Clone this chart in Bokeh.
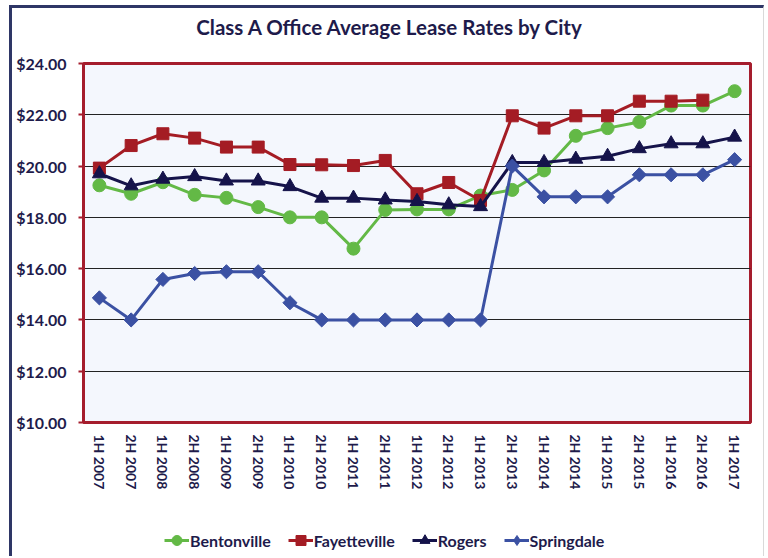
import numpy as np
from bokeh.plotting import figure
from bokeh.layouts import column
from bokeh.models import (FactorRange, Range1d, FixedTicker, NumeralTickFormatter,
                          Legend, LegendItem, Label)
from bokeh.embed import file_html
from bokeh.resources import INLINE

title_text = "Class A Office Average Lease Rates by City"
periods = ["1H 2007", "2H 2007", "1H 2008", "2H 2008", "1H 2009", "2H 2009",
           "1H 2010", "2H 2010", "1H 2011", "2H 2011", "1H 2012", "2H 2012",
           "1H 2013", "2H 2013", "1H 2014", "2H 2014", "1H 2015", "2H 2015",
           "1H 2016", "2H 2016", "1H 2017"]

bentonville = [19.25, 18.92, 19.37, 18.88, 18.76, 18.40, 18.00, 18.00, 16.78, 18.29,
               18.31, 18.31, 18.85, 19.07, 19.83, 21.18, 21.48, 21.72, 22.36, 22.36, 22.92]
fayetteville = [19.92, 20.80, 21.26, 21.09, 20.74, 20.74, 20.06, 20.05, 20.02, 20.22,
                18.92, 19.36, 18.66, 21.96, 21.48, 21.96, 21.96, 22.53, 22.53, 22.57]
rogers = [19.70, 19.23, 19.49, 19.59, 19.42, 19.42, 19.20, 18.75, 18.75, 18.68,
          18.62, 18.49, 18.42, 20.14, 20.14, 20.27, 20.38, 20.68, 20.87, 20.87, 21.13]
springdale = [14.86, 14.00, 15.58, 15.81, 15.88, 15.88, 14.67, 14.00, 14.00, 14.00,
              14.00, 14.00, 14.00, 20.00, 18.80, 18.80, 18.80, 19.66, 19.66, 19.66, 20.25]

y_ticks = [10, 12, 14, 16, 18, 20, 22, 24]

NAVY_TEXT = "#1E1B4B"
FRAME_RED = "#A51D2D"
NAVY_BORDER = "#2E3666"
FONT = "Lato"
W = 751
ML, MR = 71, 17


def strip(height, extra_styles):
    f = figure(width=W, height=height, x_range=Range1d(0, 1), y_range=Range1d(0, 1),
               output_backend="svg", toolbar_location=None,
               min_border_left=ML, min_border_right=MR, min_border_top=0,
               min_border_bottom=0)
    st = {"box-sizing": "content-box", "margin-left": "9px",
          "border-left": f"3px solid {NAVY_BORDER}", "border-right": "1px solid #D9D9D9"}
    st.update(extra_styles)
    f.styles = st
    f.axis.visible = False
    f.grid.visible = False
    f.outline_line_color = None
    f.background_fill_color = "white"
    f.border_fill_color = "white"
    return f


# title strip
t = strip(44, {"margin-top": "5px", "border-top": f"3px solid {NAVY_BORDER}"})
t.add_layout(Label(x=0.46, y=0.61, text=title_text, text_align="center",
                   text_baseline="alphabetic", text_font=FONT,
                   text_font_size="20.5px", text_font_style="bold",
                   text_color=NAVY_TEXT))

# main chart
p = figure(width=W, height=461, x_range=FactorRange(factors=periods),
           y_range=Range1d(10, 24), output_backend="svg", toolbar_location=None,
           min_border_left=ML, min_border_right=MR, min_border_top=11,
           min_border_bottom=91)
p.styles = {"box-sizing": "content-box", "margin-left": "9px",
            "border-left": f"3px solid {NAVY_BORDER}", "border-right": "1px solid #D9D9D9"}

p.background_fill_color = "#F4F7FD"
p.border_fill_color = "white"
p.outline_line_color = FRAME_RED
p.outline_line_width = 3

p.xgrid.visible = False
p.ygrid.grid_line_color = "#222222"
p.ygrid.grid_line_width = 1
p.ygrid.ticker = FixedTicker(ticks=y_ticks)

yax = p.yaxis[0]
yax.ticker = FixedTicker(ticks=y_ticks)
yax.formatter = NumeralTickFormatter(format="$0.00")
yax.axis_line_color = FRAME_RED
yax.axis_line_width = 3
yax.major_tick_line_color = FRAME_RED
yax.major_tick_line_width = 2
yax.major_tick_out = 5
yax.major_tick_in = 0
yax.minor_tick_line_color = None
yax.major_label_standoff = 12
yax.major_label_text_font = FONT
yax.major_label_text_font_size = "16px"
yax.major_label_text_font_style = "bold"
yax.major_label_text_color = NAVY_TEXT

xax = p.xaxis[0]
xax.axis_line_color = FRAME_RED
xax.axis_line_width = 3
xax.major_tick_line_color = None
xax.major_tick_out = 0
xax.major_tick_in = 0
xax.major_label_orientation = "vertical"
xax.major_label_standoff = 12
xax.major_label_text_font = FONT
xax.major_label_text_font_size = "14px"
xax.major_label_text_font_style = "bold"
xax.major_label_text_color = NAVY_TEXT

# (name, x factors, values, colour, chart marker, chart size, angle, legend marker)
series = [
    ("Bentonville", periods, bentonville, "#63B946", "circle", 13, 0, "circle"),
    ("Fayetteville", periods[:len(fayetteville)], fayetteville, "#A41C24", "square", 12, 0, "square"),
    ("Rogers", periods, rogers, "#15134A", "triangle", 14, 0, "triangle"),
    ("Springdale", periods, springdale, "#3B51A3", "square", 10, np.pi / 4, "diamond"),
]

# legend strip
q = strip(43, {})

items = []
for name, xs, ys, color, marker, size, angle, leg_marker in series:
    p.line(xs, ys, line_color=color, line_width=3)
    p.scatter(xs, ys, marker=marker, size=size, angle=angle,
              fill_color=color, line_color=color)
    # off-range proxies so the legend strip can draw each series' symbol
    ln = q.line([5, 6], [5, 6], line_color=color, line_width=3)
    sc = q.scatter([5], [5], marker=leg_marker, size=size,
                   fill_color=color, line_color=color)
    items.append(LegendItem(label=name, renderers=[ln, sc]))

legend = Legend(items=items, orientation="horizontal", location=(81, 2),
                label_text_font=FONT, label_text_font_size="16px",
                label_text_font_style="bold", label_text_color=NAVY_TEXT,
                glyph_width=25, glyph_height=28, label_standoff=1, spacing=17,
                padding=0, margin=0, border_line_color=None,
                background_fill_alpha=0)
q.add_layout(legend)

layout = column(t, p, q, spacing=0)
open("out.html", "w").write(file_html(layout, INLINE))
